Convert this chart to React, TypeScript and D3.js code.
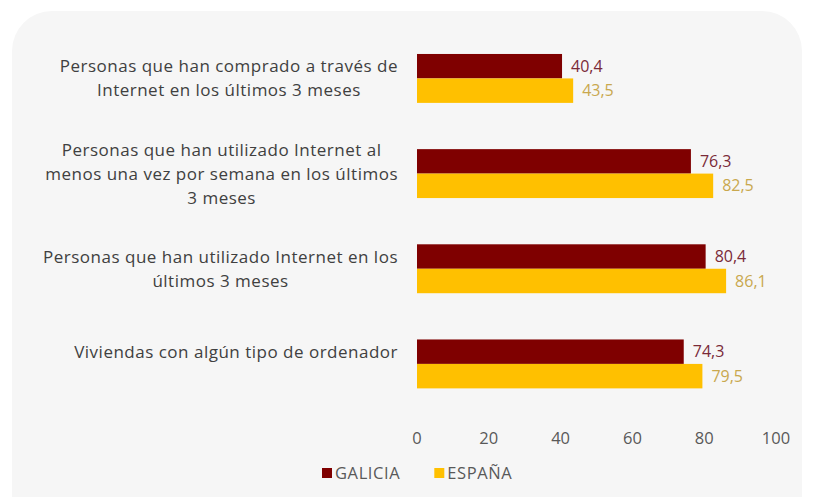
import React, { useEffect, useRef } from "react";
import * as d3 from "d3";

const categories: string[][] = [
  ["Personas que han comprado a través de", "Internet en los últimos 3 meses"],
  ["Personas que han utilizado Internet al", "menos una vez por semana en los últimos", "3 meses"],
  ["Personas que han utilizado Internet en los", "últimos 3 meses"],
  ["Viviendas con algún tipo de ordenador"],
];
const seriesNames = ["GALICIA", "ESPAÑA"];
const galicia = [40.4, 76.3, 80.4, 74.3];
const espana = [43.5, 82.5, 86.1, 79.5];
const xTicks = [0, 20, 40, 60, 80, 100];

const W = 814;
const H = 497;
const FONT = "'Open Sans', 'Noto Sans', sans-serif";
const barColors = ["#7f0000", "#ffc000"];
const labelColors = ["#7a2a38", "#c9a84e"];

export default function App() {
  const ref = useRef<SVGSVGElement | null>(null);

  useEffect(() => {
    const svg = d3.select(ref.current);
    svg.selectAll("*").remove();

    // background
    svg.append("rect").attr("width", W).attr("height", H).attr("fill", "#ffffff");
    svg.append("rect").attr("x", 12).attr("y", 11).attr("width", W - 24).attr("height", H + 40)
      .attr("rx", 40).attr("fill", "#f6f6f6");

    const x = d3.scaleLinear().domain([0, 100]).range([417, 776]);
    const keys = categories.map((_, i) => String(i));
    const y = d3.scaleBand().domain(keys).range([30.85, 411.5]).paddingInner(0.486).paddingOuter(0.243);
    const ySub = d3.scaleBand().domain(["0", "1"]).range([0, y.bandwidth()]);

    const series = [galicia, espana];

    const g = svg.append("g");
    keys.forEach((k, i) => {
      const grp = g.append("g").attr("transform", `translate(0,${y(k)})`);
      series.forEach((vals, s) => {
        const by = ySub(String(s))!;
        grp.append("rect")
          .attr("x", x(0))
          .attr("y", by)
          .attr("width", x(vals[i]) - x(0))
          .attr("height", ySub.bandwidth())
          .attr("fill", barColors[s]);
        grp.append("text")
          .attr("x", x(vals[i]) + 9)
          .attr("y", by + ySub.bandwidth() / 2)
          .attr("dy", "0.35em")
          .attr("font-family", FONT)
          .attr("font-size", 16)
          .attr("fill", labelColors[s])
          .text(d3.format(".1f")(vals[i]).replace(".", ","));
      });
    });

    // category labels: block right-aligned, lines centered inside
    const rightEdge = 398;
    const lh = 24;
    keys.forEach((k, i) => {
      const lines = categories[i];
      const n = lines.length;
      const center = y(k)! + y.bandwidth() / 2 - (n === 1 ? 12 : 0);
      const texts = lines.map((line, j) =>
        svg.append("text")
          .attr("y", center - ((n - 1) * lh) / 2 + j * lh)
          .attr("dy", "0.35em")
          .attr("font-family", FONT)
          .attr("font-size", 17)
          .attr("letter-spacing", 0.5)
          .attr("fill", "#404040")
          .attr("text-anchor", "middle")
          .text(line)
      );
      const widths = texts.map((t) => (t.node() as SVGTextElement).getComputedTextLength());
      const maxW = Math.max(...widths);
      texts.forEach((t) => t.attr("x", rightEdge - maxW / 2));
    });

    // x axis tick labels
    svg.append("g").selectAll("text").data(xTicks).join("text")
      .attr("x", (d) => x(d))
      .attr("y", 438)
      .attr("dy", "0.35em")
      .attr("text-anchor", "middle")
      .attr("font-family", FONT)
      .attr("font-size", 16.5)
      .attr("fill", "#595959")
      .text((d) => String(d));

    // legend
    const leg = svg.append("g");
    let lx = 322;
    seriesNames.forEach((name, s) => {
      leg.append("rect").attr("x", lx).attr("y", 468).attr("width", 10).attr("height", 10).attr("fill", barColors[s]);
      const t = leg.append("text")
        .attr("x", lx + 13)
        .attr("y", 473)
        .attr("dy", "0.35em")
        .attr("font-family", FONT)
        .attr("font-size", 16.5)
        .attr("letter-spacing", 0.6)
        .attr("fill", "#595959")
        .text(name);
      lx += 13 + (t.node() as SVGTextElement).getComputedTextLength() + 34;
    });
  }, []);

  return (
    <svg ref={ref} width={W} height={H} style={{ position: "absolute", left: 0, top: 0 }} />
  );
}
